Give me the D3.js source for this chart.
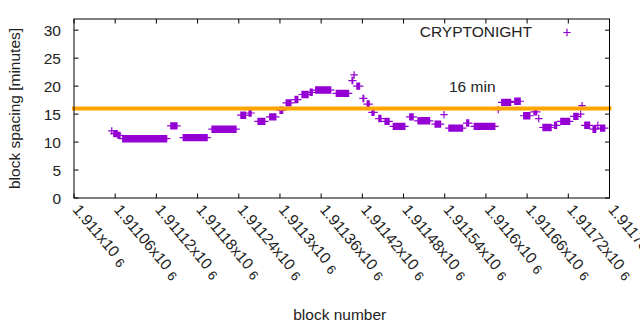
<!DOCTYPE html>
<html><head><meta charset="utf-8">
<script src="https://cdn.jsdelivr.net/npm/d3@7"></script>
<style>
body{margin:0;background:#fff;}
svg{display:block;font-family:"Liberation Sans",Arial,sans-serif;}
</style></head>
<body><svg id="c" width="640" height="330"></svg>
<script>
// Runs of consecutive blocks sharing the same spacing value (minutes)
const runStart = [1911055,1911058,1911064,1911071,1911141,1911159,1911201,1911243,1911255,1911268,
  1911285,1911300,1911309,1911322,1911332,1911344,1911352,1911382,1911405,1911408,
  1911412,1911421,1911427,1911434,1911444,1911453,1911465,1911489,1911501,1911526,
  1911539,1911546,1911572,1911583,1911618,1911623,1911642,1911655,1911670,1911677,
  1911683,1911700,1911709,1911728,1911738,1911740,1911744,1911756,1911763,1911767];
const runEnd = [1911055,1911063,1911067,1911135,1911150,1911194,1911236,1911250,1911258,1911278,
  1911294,1911304,1911316,1911326,1911341,1911347,1911374,1911400,1911406,1911408,
  1911416,1911422,1911430,1911437,1911447,1911459,1911482,1911494,1911518,1911534,
  1911539,1911566,1911575,1911613,1911618,1911636,1911650,1911664,1911674,1911677,
  1911695,1911703,1911722,1911734,1911738,1911740,1911751,1911760,1911763,1911773];
const runValue = [12.0,11.5,11.2,10.6,12.9,10.8,12.3,14.8,15.2,13.7,
  14.5,15.7,17.0,17.6,18.5,18.9,19.3,18.7,21.0,22.0,
  20.0,17.8,16.8,15.3,14.2,13.7,12.8,14.5,13.8,13.2,
  14.9,12.5,13.4,12.8,15.8,17.1,17.3,14.7,15.4,14.2,
  12.6,13.0,13.7,14.6,15.0,16.5,13.0,12.3,13.0,12.5];

const xTickValues = [1911000,1911060,1911120,1911180,1911240,1911300,1911360,1911420,1911480,1911540,1911600,1911660,1911720,1911780];
const xTickLabels = ["1.911","1.91106","1.91112","1.91118","1.91124","1.9113","1.91136","1.91142","1.91148","1.91154","1.9116","1.91166","1.91172","1.91178"];
const yTickValues = [0,5,10,15,20,25,30];
const refValue = 16;
const seriesName = "CRYPTONIGHT";
const refLabel = "16 min";

const svg = d3.select("#c");
const L = 74, R = 609.5, T = 19, B = 198;
const x = d3.scaleLinear().domain([1911000, 1911780]).range([L, R]);
const y = d3.scaleLinear().domain([0, 32]).range([B, T]);
const FS = "15.5px";
const violet = "#9400d3";

// expand runs into points
const pts = [];
runStart.forEach((s, i) => { for (let b = s; b <= runEnd[i]; b++) pts.push({b, v: runValue[i]}); });

const plus = (cx, cy, h) => `M${cx-h},${cy}H${cx+h}M${cx},${cy-h}V${cy+h}`;

// points
svg.append("path")
  .attr("d", pts.map(p => plus(x(p.b), y(p.v), 3.7)).join(""))
  .attr("stroke", violet).attr("stroke-width", 1.2).attr("fill", "none");

// reference line
svg.append("line").attr("x1", L).attr("x2", R).attr("y1", y(refValue)).attr("y2", y(refValue))
  .attr("stroke", "#ffa500").attr("stroke-width", 4).attr("stroke-linecap", "square");

// frame
svg.append("rect").attr("x", L).attr("y", T).attr("width", R - L).attr("height", B - T)
  .attr("fill", "none").attr("stroke", "#000").attr("stroke-width", 1);

// axes ticks (inward, mirrored)
const tl = 4.5;
const gAx = svg.append("g").attr("stroke", "#000").attr("stroke-width", 1);
xTickValues.forEach(v => {
  const px = x(v);
  gAx.append("line").attr("x1", px).attr("x2", px).attr("y1", B).attr("y2", B - tl);
  gAx.append("line").attr("x1", px).attr("x2", px).attr("y1", T).attr("y2", T + tl);
});
yTickValues.forEach(v => {
  const py = y(v);
  gAx.append("line").attr("x1", L).attr("x2", L + tl).attr("y1", py).attr("y2", py);
  gAx.append("line").attr("x1", R).attr("x2", R - tl).attr("y1", py).attr("y2", py);
});

// y tick labels
svg.append("g").selectAll("text").data(yTickValues).join("text")
  .attr("x", 61).attr("y", d => y(d)).attr("dy", "0.36em")
  .attr("text-anchor", "end").attr("font-size", FS).attr("fill", "#222").text(d => d);

// x tick labels rotated
const xl = svg.append("g").selectAll("text").data(xTickValues).join("text")
  .attr("transform", d => `translate(${x(d) - 2},${B + 12}) rotate(50)`)
  .attr("text-anchor", "start").attr("font-size", FS).attr("fill", "#222");
xl.append("tspan").text((d, i) => xTickLabels[i] + "x10");
xl.append("tspan").attr("dx", 5).attr("dy", 2).attr("font-size", "13px").text("6");

// axis titles
svg.append("text").attr("transform", `translate(20,${(T + B) / 2}) rotate(-90)`)
  .attr("text-anchor", "middle").attr("font-size", FS).attr("fill", "#222").text("block spacing [minutes]");
svg.append("text").attr("x", (L + R) / 2 - 2).attr("y", 320)
  .attr("text-anchor", "middle").attr("font-size", FS).attr("fill", "#222").text("block number");

// legend
svg.append("text").attr("x", 532).attr("y", 37).attr("text-anchor", "end")
  .attr("font-size", FS).attr("fill", "#222").text(seriesName);
svg.append("path").attr("d", plus(567, 32.5, 3.7)).attr("stroke", violet).attr("stroke-width", 1.2).attr("fill", "none");

// reference label
svg.append("text").attr("x", 449).attr("y", 92).attr("font-size", FS).attr("fill", "#222").text(refLabel);
</script></body></html>
